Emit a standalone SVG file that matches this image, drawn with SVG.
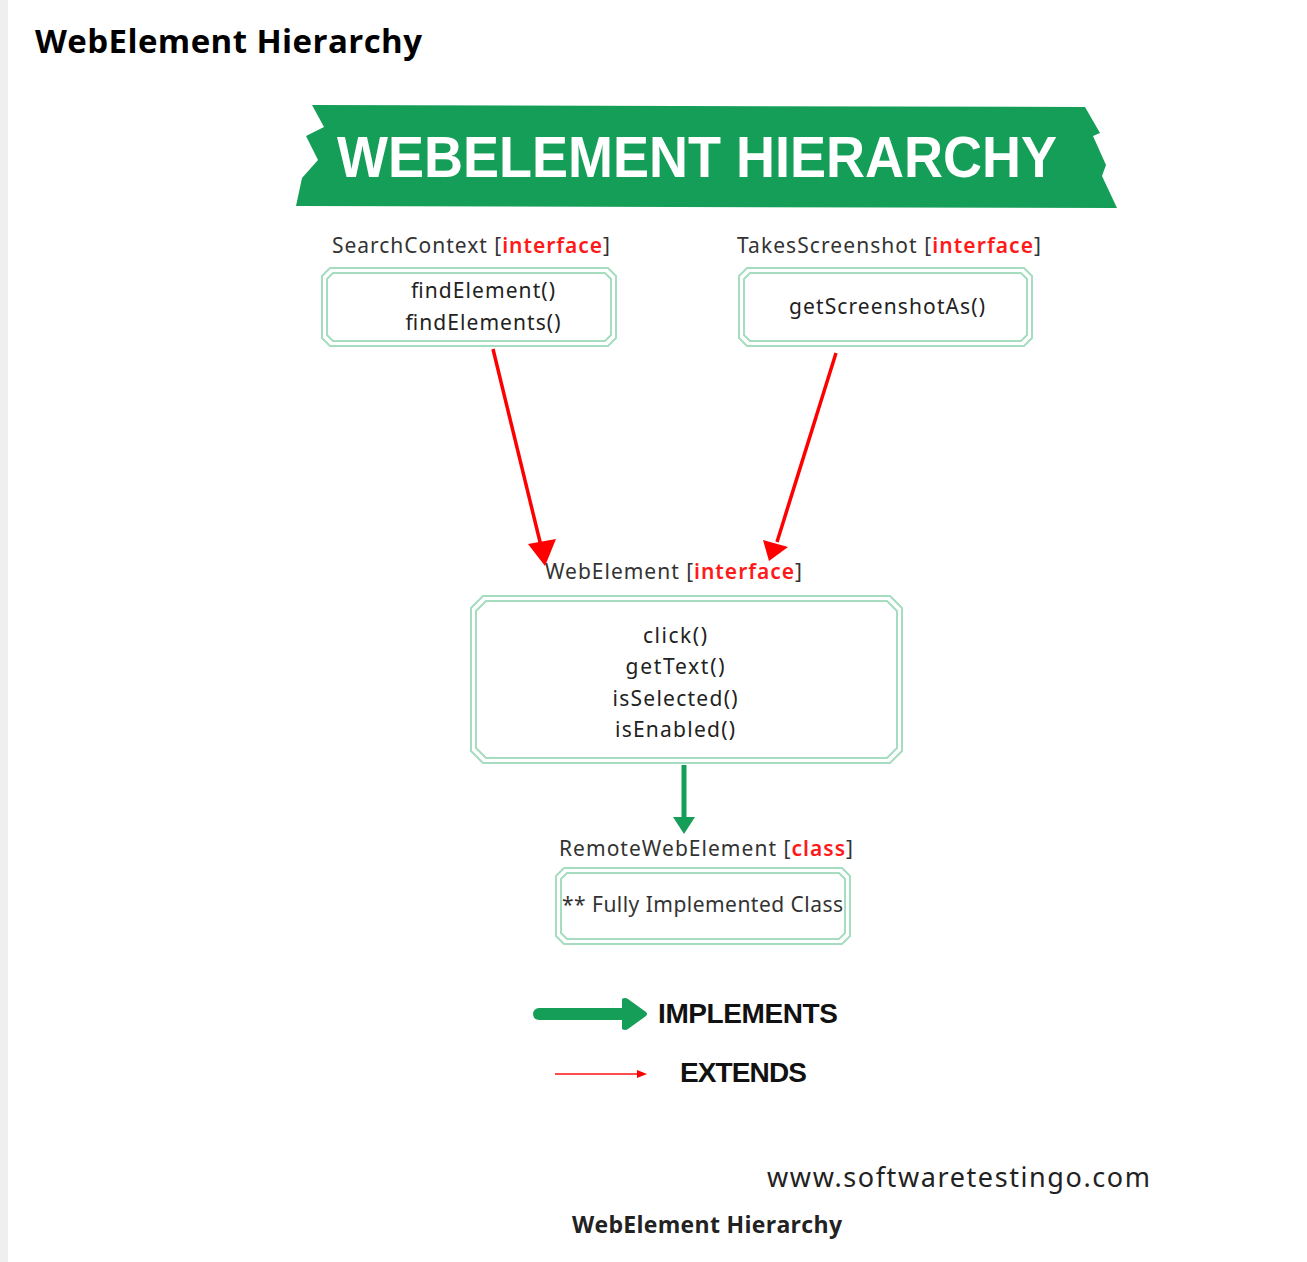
<svg xmlns="http://www.w3.org/2000/svg" width="1307" height="1262" viewBox="0 0 1307 1262">
<style>
.lbl{font-family:"Noto Sans","Open Sans",sans-serif;font-size:21px;fill:#333}
.red{fill:#ff1a1a;font-weight:600}
.m{font-family:"Noto Sans","Open Sans",sans-serif;font-size:21px;fill:#222;text-anchor:middle}
.bo{fill:none;stroke:#a6dcc0;stroke-width:2}
.leg{font-family:"Liberation Sans",Arial,sans-serif;font-weight:bold;font-size:28px;fill:#111}
</style>
<rect width="1307" height="1262" fill="#ffffff"/>
<rect x="0" y="0" width="8" height="1262" fill="#efefef"/>
<text x="35" y="53" font-family="Open Sans,Liberation Sans,sans-serif" font-weight="bold" font-size="33" fill="#000" textLength="387">WebElement Hierarchy</text>
<g id="banner">
<polygon points="312,105 1085,107 1100,133 1093,136 1106,165 1102,176 1117,208 296,206 302,178 318,160 306,136 324,127" fill="#159e58"/>
<text x="337" y="177" font-family="Liberation Sans,Arial,sans-serif" font-weight="bold" font-size="57" fill="#ffffff" textLength="720" lengthAdjust="spacingAndGlyphs">WEBELEMENT HIERARCHY</text>
</g>
<g id="searchcontext">
<text class="lbl" x="332" y="253" textLength="278">SearchContext [<tspan class="red">interface</tspan>]</text>
<path class="bo" d="M330,268 H608 L616,276 V338 L608,346 H330 L322,338 V276 Z"/>
<path class="bo" d="M333,273 H605 L611,279 V335 L605,341 H333 L327,335 V279 Z"/>
<text class="m" x="483" y="298" textLength="144">findElement()</text>
<text class="m" x="483" y="330" textLength="155">findElements()</text>
</g>
<g id="takesscreenshot">
<text class="lbl" x="737" y="253" textLength="304">TakesScreenshot [<tspan class="red">interface</tspan>]</text>
<path class="bo" d="M747,268 H1024 L1032,276 V338 L1024,346 H747 L739,338 V276 Z"/>
<path class="bo" d="M750,273 H1021 L1027,279 V335 L1021,341 H750 L744,335 V279 Z"/>
<text class="m" x="887" y="314" textLength="196">getScreenshotAs()</text>
</g>
<g id="webelement">
<text class="lbl" x="545" y="579" textLength="257">WebElement [<tspan class="red">interface</tspan>]</text>
<path class="bo" d="M483,596 H890 L902,608 V751 L890,763 H483 L471,751 V608 Z"/>
<path class="bo" d="M486,601 H887 L897,611 V748 L887,758 H486 L476,748 V611 Z"/>
<text class="m" x="675" y="643" textLength="64">click()</text>
<text class="m" x="675" y="674" textLength="99">getText()</text>
<text class="m" x="675" y="706" textLength="125">isSelected()</text>
<text class="m" x="675" y="737" textLength="120">isEnabled()</text>
</g>
<g id="remotewebelement">
<text class="lbl" x="559" y="856" textLength="294">RemoteWebElement [<tspan class="red">class</tspan>]</text>
<path class="bo" d="M564,868 H842 L850,876 V936 L842,944 H564 L556,936 V876 Z"/>
<path class="bo" d="M567,873 H839 L845,879 V933 L839,939 H567 L561,933 V879 Z"/>
<text class="lbl" x="562" y="912" textLength="281">** Fully Implemented Class</text>
</g>
<g id="connectors">
<line x1="493" y1="349" x2="541" y2="546" stroke="#ff0000" stroke-width="3.5"/>
<polygon points="528,544 556,539 545,566" fill="#ff0000"/>
<line x1="836" y1="353" x2="777" y2="542" stroke="#ff0000" stroke-width="3.5"/>
<polygon points="763,540 788,547 769,561" fill="#ff0000"/>
<line x1="684" y1="765" x2="684" y2="820" stroke="#159e58" stroke-width="5"/>
<polygon points="673,817 695,817 684,834" fill="#159e58"/>
</g>
<g id="legend">
<line x1="539" y1="1014" x2="626" y2="1014" stroke="#159e58" stroke-width="12" stroke-linecap="round"/>
<path d="M622,999 Q625,997 628,999 L646,1012 Q648,1014 646,1016 L628,1029 Q625,1031 622,1029 Z" fill="#159e58"/>
<text class="leg" x="658" y="1023" textLength="180">IMPLEMENTS</text>
<line x1="555" y1="1074" x2="639" y2="1074" stroke="#ff4d4d" stroke-width="2"/>
<polygon points="637,1070 647,1074 637,1078" fill="#ff0000"/>
<text class="leg" x="680" y="1082" textLength="127">EXTENDS</text>
</g>
<text x="767" y="1187" font-family="Noto Sans,Open Sans,sans-serif" font-size="27" fill="#222" textLength="383">www.softwaretestingo.com</text>
<text x="572" y="1233" font-family="Open Sans,Liberation Sans,sans-serif" font-weight="bold" font-size="23" fill="#222" textLength="270">WebElement Hierarchy</text>
</svg>
